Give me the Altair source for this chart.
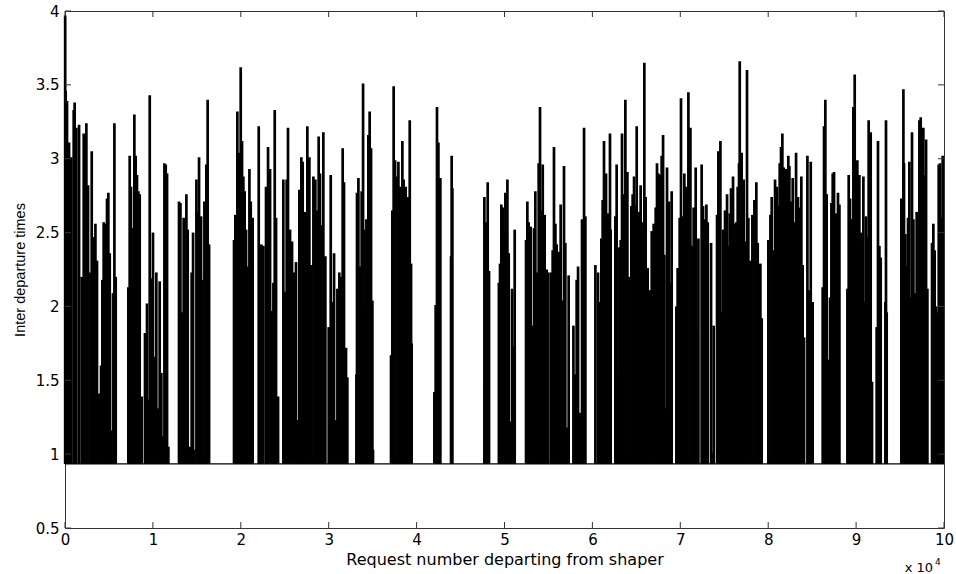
import altair as alt
import pandas as pd

# Request number (x 10^4) of each burst spike, and the inter-departure time it reaches
spike_x = [
    0.002, 0.008, 0.023, 0.046, 0.072, 0.099, 0.110, 0.129, 0.160, 0.190, 0.213, 0.243, 0.262, 0.289, 0.304,
    0.327, 0.346, 0.364, 0.387, 0.410, 0.425, 0.440, 0.463, 0.478, 0.493, 0.509, 0.524, 0.546, 0.562, 0.577,
    0.721, 0.736, 0.751, 0.774, 0.789, 0.804, 0.819, 0.835, 0.850, 0.873, 0.910, 0.933, 0.948, 0.964, 0.979,
    1.001, 1.024, 1.039, 1.062, 1.077, 1.096, 1.115, 1.131, 1.146, 1.161, 1.176,
    1.297, 1.313, 1.335, 1.350, 1.366, 1.381, 1.396, 1.426, 1.441, 1.457, 1.472, 1.495, 1.510, 1.525, 1.548,
    1.563, 1.586, 1.608, 1.623, 1.639,
    1.923, 1.938, 1.961, 1.976, 1.999, 2.014, 2.029, 2.044, 2.060, 2.075, 2.098, 2.113, 2.135,
    2.204, 2.219, 2.234, 2.257, 2.287, 2.310, 2.333, 2.355, 2.371, 2.386, 2.401, 2.424,
    2.484, 2.507, 2.522, 2.537, 2.560, 2.583, 2.606, 2.628, 2.651, 2.666, 2.689, 2.704, 2.727, 2.757, 2.780,
    2.803, 2.826, 2.848, 2.871, 2.886, 2.901, 2.924, 2.939, 2.962,
    3.000, 3.023, 3.046, 3.061, 3.083, 3.099, 3.121, 3.144, 3.159, 3.174, 3.197, 3.212,
    3.315, 3.322, 3.338, 3.353, 3.375, 3.391, 3.406, 3.429, 3.436, 3.451, 3.466, 3.482, 3.497, 3.504,
    3.709, 3.724, 3.739, 3.755, 3.770, 3.793, 3.808, 3.823, 3.838, 3.853, 3.876, 3.891, 3.906, 3.922, 3.937, 3.944,
    4.202, 4.217, 4.232, 4.248, 4.263, 4.270,
    4.392, 4.399, 4.407,
    4.771, 4.778, 4.794, 4.809, 4.824,
    4.936, 4.949, 4.964, 4.980, 4.995, 5.010, 5.033, 5.048, 5.071, 5.086, 5.101, 5.116,
    5.245, 5.260, 5.275, 5.298, 5.321, 5.336, 5.351, 5.374, 5.389, 5.404, 5.419, 5.435, 5.457, 5.480, 5.495,
    5.526, 5.548, 5.563, 5.579, 5.594, 5.617, 5.639, 5.654, 5.662, 5.677, 5.692, 5.715, 5.730,
    5.784, 5.799, 5.821, 5.837, 5.859, 5.882, 5.905, 5.920,
    6.034, 6.064, 6.079, 6.102, 6.117, 6.132, 6.155, 6.178, 6.200, 6.208,
    6.261, 6.276, 6.292, 6.307, 6.322, 6.337, 6.352, 6.375, 6.398, 6.413, 6.428, 6.443, 6.458, 6.474, 6.489,
    6.504, 6.519, 6.534, 6.549, 6.564, 6.580, 6.591, 6.606, 6.629, 6.659, 6.675, 6.697, 6.720, 6.735, 6.751,
    6.773, 6.788, 6.804, 6.819, 6.834, 6.849, 6.872, 6.887, 6.902,
    6.955, 6.970, 6.993, 7.008, 7.031, 7.046, 7.061, 7.077, 7.092, 7.115, 7.130, 7.152, 7.175, 7.190, 7.206,
    7.243, 7.259, 7.281, 7.297, 7.312,
    7.350, 7.365, 7.380, 7.418, 7.433, 7.456, 7.471, 7.486, 7.509, 7.532, 7.547, 7.562, 7.577, 7.600, 7.623,
    7.638, 7.653, 7.668, 7.676, 7.698, 7.721, 7.736, 7.759, 7.774, 7.797, 7.820, 7.843, 7.865, 7.881, 7.896,
    7.911, 7.926,
    8.002, 8.025, 8.040, 8.055, 8.078, 8.100, 8.116, 8.131, 8.146, 8.161, 8.177, 8.199, 8.214, 8.229, 8.241,
    8.256, 8.279, 8.301, 8.317, 8.339, 8.362, 8.377, 8.392, 8.408, 8.446, 8.468, 8.484, 8.506,
    8.620, 8.635, 8.650, 8.665, 8.681, 8.703, 8.719, 8.734, 8.749, 8.772, 8.794, 8.810,
    8.901, 8.916, 8.931, 8.946, 8.969, 8.984, 8.999, 9.014, 9.037, 9.052, 9.067, 9.083, 9.098, 9.113, 9.128,
    9.143, 9.158, 9.166, 9.181,
    9.234, 9.249, 9.265, 9.280, 9.333, 9.340, 9.348,
    9.515, 9.538, 9.545, 9.561, 9.576, 9.591, 9.606, 9.621, 9.636, 9.652, 9.667, 9.689, 9.704, 9.720, 9.735,
    9.750, 9.765, 9.780, 9.796, 9.811,
    9.864, 9.879, 9.894, 9.909, 9.925, 9.940, 9.955, 9.970, 9.985,
]
spike_y = [
    3.97, 3.46, 3.39, 3.11, 3.01, 3.33, 3.38, 3.21, 3.23, 2.20, 3.17, 3.24, 2.82, 2.23, 3.05,
    2.47, 2.56, 2.31, 1.41, 1.60, 2.18, 2.57, 2.56, 2.73, 2.77, 2.36, 1.16, 2.09, 3.24, 2.20,
    2.13, 3.02, 2.81, 2.53, 3.30, 3.02, 2.89, 2.78, 2.76, 1.39, 1.82, 2.02, 1.37, 3.43, 2.19,
    2.50, 1.66, 2.23, 1.31, 2.17, 1.55, 1.12, 2.97, 2.96, 2.90, 1.05,
    2.71, 2.70, 1.96, 2.60, 2.23, 2.76, 2.52, 1.05, 2.23, 2.50, 1.03, 2.86, 2.64, 3.01, 2.61,
    2.18, 2.71, 2.96, 3.40, 2.42,
    2.45, 2.62, 3.32, 3.04, 3.62, 3.12, 2.88, 2.78, 2.52, 2.27, 2.93, 2.71, 2.60,
    3.22, 2.20, 2.42, 2.41, 2.81, 3.08, 2.93, 1.97, 2.16, 3.33, 2.60, 1.39,
    2.86, 2.10, 2.86, 3.21, 2.52, 2.44, 2.23, 2.30, 1.23, 2.79, 3.01, 2.98, 2.64, 3.22, 3.01,
    2.28, 2.88, 2.86, 2.65, 3.15, 2.90, 2.55, 3.18, 2.34,
    1.86, 2.89, 2.03, 2.36, 1.23, 2.12, 2.23, 2.20, 3.07, 2.84, 1.72, 1.52,
    1.54, 2.77, 2.87, 2.27, 2.78, 3.51, 2.52, 2.59, 2.00, 3.16, 3.32, 3.07, 2.04, 1.03,
    1.67, 2.65, 3.49, 2.99, 2.88, 2.98, 2.81, 2.31, 3.12, 2.86, 2.81, 2.35, 2.74, 3.26, 2.29, 1.75,
    1.42, 2.01, 3.35, 3.11, 1.96, 2.87,
    2.34, 3.02, 2.80,
    2.74, 1.47, 2.57, 2.84, 2.24,
    2.16, 2.29, 2.69, 2.67, 2.50, 2.77, 2.86, 2.36, 1.22, 2.12, 1.73, 2.52,
    2.45, 2.71, 2.57, 2.54, 1.87, 2.53, 2.78, 2.23, 2.97, 3.35, 2.65, 2.96, 2.62, 2.25, 2.23,
    2.23, 2.38, 3.08, 2.56, 2.42, 2.37, 2.69, 2.04, 1.30, 2.95, 2.43, 1.18, 2.21,
    1.87, 1.54, 2.18, 2.27, 1.28, 2.59, 3.21, 2.61,
    2.28, 2.23, 2.03, 2.46, 2.72, 3.12, 2.90, 2.63, 3.17, 2.52,
    2.61, 2.96, 1.55, 2.40, 2.45, 3.17, 2.76, 3.40, 2.91, 2.20, 2.13, 2.68, 2.76, 2.88, 2.68,
    3.22, 2.36, 2.64, 2.82, 2.51, 2.57, 3.65, 2.74, 2.26, 2.11, 2.51, 2.56, 2.67, 2.97, 2.90,
    2.89, 3.02, 3.16, 2.35, 1.31, 2.94, 2.71, 2.16, 2.78,
    2.00, 2.26, 2.60, 3.41, 2.61, 2.90, 2.81, 2.79, 3.45, 3.21, 2.41, 2.67, 2.94, 1.84, 2.46,
    2.96, 2.68, 2.59, 2.69, 2.57,
    2.43, 1.01, 1.87, 2.62, 3.05, 3.12, 1.96, 2.52, 2.65, 2.76, 2.41, 2.63, 2.80, 2.88, 2.56,
    2.57, 2.81, 2.97, 3.66, 3.04, 2.86, 2.44, 3.60, 2.60, 2.31, 2.62, 2.72, 2.84, 2.43, 1.96,
    2.29, 1.92,
    2.45, 2.62, 2.74, 2.38, 2.86, 2.81, 2.68, 2.97, 3.08, 3.17, 2.94, 2.93, 2.81, 3.02, 2.95,
    2.71, 2.87, 2.57, 3.04, 2.74, 2.67, 2.88, 2.28, 1.79, 3.02, 2.11, 2.98, 2.03,
    2.13, 3.22, 3.40, 2.76, 1.64, 2.06, 2.70, 2.90, 2.91, 2.63, 2.77, 2.69,
    2.12, 2.89, 2.73, 2.59, 3.35, 3.57, 2.97, 2.99, 2.89, 2.50, 2.44, 2.88, 2.03, 2.61, 2.47,
    3.26, 2.18, 3.18, 1.49,
    1.86, 3.12, 2.41, 2.33, 2.03, 3.26, 1.96,
    2.73, 3.47, 2.97, 2.49, 2.27, 2.60, 2.98, 2.06, 3.18, 2.59, 2.09, 2.64, 2.11, 3.26, 3.28,
    3.01, 3.21, 2.89, 3.13, 2.12,
    2.43, 2.56, 2.38, 2.00, 1.96, 2.96, 2.97, 2.60, 3.02,
]
baseline_value = 0.934          # inter-departure time between bursts
x_ticks = [0, 1, 2, 3, 4, 5, 6, 7, 8, 9, 10]
y_ticks = [0.5, 1, 1.5, 2, 2.5, 3, 3.5, 4]

W, H = 879, 517
FONT = "DejaVu Sans"
XT = "Request number departing from shaper"
YT = "Inter departure times"

spikes_df = pd.DataFrame({"x": spike_x, "y": spike_y})
spikes_df["base"] = baseline_value

xscale = alt.Scale(domain=[0, 10], nice=False, zero=False)
yscale = alt.Scale(domain=[0.5, 4], nice=False, zero=False)

x_axis = alt.Axis(
    values=x_ticks, format="d", ticks=False, domain=False, grid=False,
    labelFont=FONT, labelFontSize=15, labelColor="black", labelPadding=4, labelFlush=False,
    title=XT, titleFont=FONT, titleFontSize=16, titleFontWeight="normal", titleColor="black",
    titleX=W / 2, titleY=36, titleBaseline="alphabetic", titleAlign="center",
)
y_axis = alt.Axis(
    values=y_ticks, format=".1~f", ticks=False, domain=False, grid=False,
    labelFont=FONT, labelFontSize=15, labelColor="black", labelPadding=6,
    title=YT, titleFont="Liberation Sans", titleFontSize=14.5, titleFontWeight="normal",
    titleColor="black", titleAngle=270, titleX=-41, titleY=H / 2,
    titleBaseline="alphabetic", titleAlign="center",
)

spikes = alt.Chart(spikes_df).mark_rule(color="black", strokeWidth=2.7).encode(
    x=alt.X("x:Q", scale=xscale, axis=x_axis, title=XT),
    y=alt.Y("y:Q", scale=yscale, axis=y_axis, title=YT),
    y2="base:Q",
)

baseline = alt.Chart(pd.DataFrame({"b": [baseline_value]})).mark_rule(
    color="black", strokeWidth=1.2
).encode(
    y=alt.Y("b:Q", scale=yscale, title=YT),
    x=alt.value(0), x2=alt.value(W),
)

xt_df = pd.DataFrame({"t": x_ticks})
yt_df = pd.DataFrame({"t": y_ticks})
tick_style = dict(color="#333333", strokeWidth=1)

xt_bottom = alt.Chart(xt_df).mark_rule(**tick_style).encode(
    x=alt.X("t:Q", scale=xscale, title=XT), y=alt.value(H), y2=alt.value(H - 6))
xt_top = alt.Chart(xt_df).mark_rule(**tick_style).encode(
    x=alt.X("t:Q", scale=xscale, title=XT), y=alt.value(0), y2=alt.value(6))
yt_left = alt.Chart(yt_df).mark_rule(**tick_style).encode(
    y=alt.Y("t:Q", scale=yscale, title=YT), x=alt.value(0), x2=alt.value(6))
yt_right = alt.Chart(yt_df).mark_rule(**tick_style).encode(
    y=alt.Y("t:Q", scale=yscale, title=YT), x=alt.value(W - 6), x2=alt.value(W))

exp_base = alt.Chart(pd.DataFrame({"s": ["x 10"]})).mark_text(
    font=FONT, fontSize=13, align="right", baseline="alphabetic", color="black"
).encode(text="s:N", x=alt.value(W - 11), y=alt.value(H + 44))
exp_pow = alt.Chart(pd.DataFrame({"s": ["4"]})).mark_text(
    font=FONT, fontSize=9, align="left", baseline="alphabetic", color="black"
).encode(text="s:N", x=alt.value(W - 9), y=alt.value(H + 37))

chart = alt.layer(
    spikes, baseline, xt_bottom, xt_top, yt_left, yt_right, exp_base, exp_pow
).properties(
    width=W, height=H,
    autosize=alt.AutoSizeParams(type="none"),
    padding={"left": 65, "top": 11, "right": 12, "bottom": 46},
    background="white",
).configure_view(stroke="#333333", strokeWidth=1)

chart.save("out.html", embed_options={"renderer": "svg", "actions": False})
